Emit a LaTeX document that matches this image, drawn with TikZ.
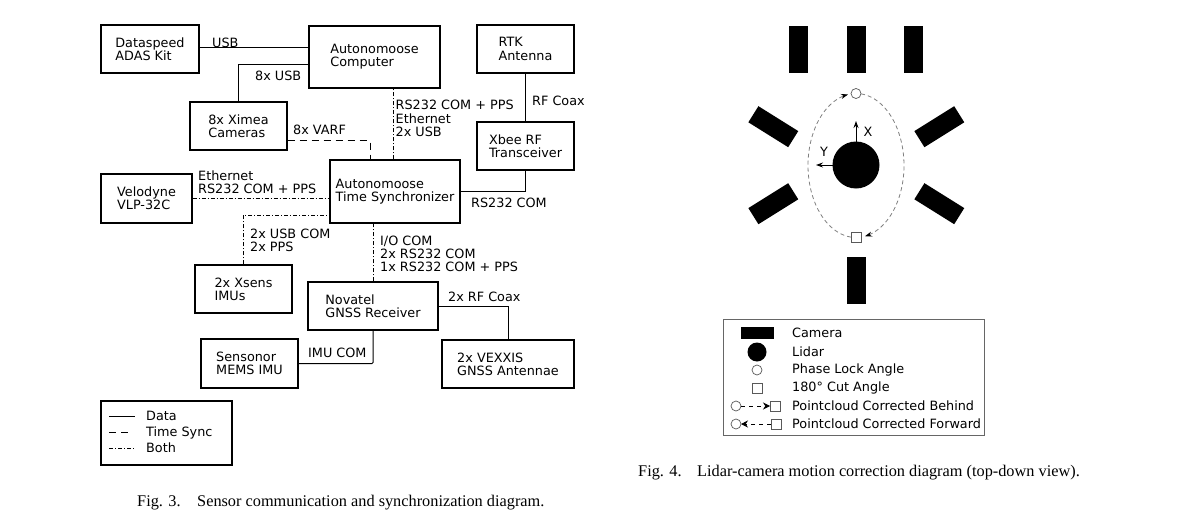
\documentclass[tikz,border=0pt]{standalone}
\usepackage{fontspec}
\setmainfont{DejaVu Sans}
\newfontfamily\capfont{Liberation Serif}
\usetikzlibrary{arrows.meta}
\begin{document}
\begin{tikzpicture}[x=1pt,y=-1pt,
  txt/.style={font=\fontsize{12.8}{13.3}\selectfont},
  box/.style={txt, draw, line width=1.2pt, align=left, inner sep=0pt},
  lab/.style={txt, inner sep=0pt, anchor=west, align=left},
  conn/.style={line width=1pt},
  tsync/.style={conn, dash pattern=on 7pt off 5pt},
  both/.style={conn, dash pattern=on 4pt off 2pt on 1pt off 2pt},
  orbit/.style={gray, line width=0.8pt, dash pattern=on 4pt off 3pt},
  orbtip/.style={-{Stealth[black,length=7pt,width=5pt]}},
  cambox/.style={fill=black, inner sep=0pt, minimum width=47pt, minimum height=19pt},
  symb/.style={draw=gray!70!black, line width=0.7pt, fill=white},
  captxt/.style={font=\capfont\fontsize{16.3}{18}\selectfont, inner sep=0pt, anchor=base west}
]
\useasboundingbox (0,0) rectangle (1186,527);

% ---------------- left diagram: boxes ----------------
\node[box, minimum width=98pt, minimum height=48pt] (ds) at (150,49) {Dataspeed\\ADAS Kit};
\node[box, minimum width=131pt, minimum height=62pt] (comp) at (374.5,57) {Autonomoose\\Computer};
\node[box, minimum width=97pt, minimum height=48pt] (cam) at (238.5,126) {8x Ximea\\Cameras};
\node[box, minimum width=97pt, minimum height=48pt] (rtk) at (525.5,49) {RTK\\Antenna};
\node[box, minimum width=97pt, minimum height=48pt] (xbee) at (525.5,146) {Xbee RF\\Transceiver};
\node[box, minimum width=130pt, minimum height=63pt] (ts) at (395,191.5) {Autonomoose\\Time Synchronizer};
\node[box, minimum width=91pt, minimum height=49pt] (velo) at (146.5,198.5) {Velodyne\\VLP-32C};
\node[box, minimum width=97pt, minimum height=48pt] (xsens) at (243.5,289) {2x Xsens\\IMUs};
\node[box, minimum width=130pt, minimum height=48pt] (nov) at (373,306) {Novatel\\GNSS Receiver};
\node[box, minimum width=132pt, minimum height=48pt] (vex) at (508,364) {2x VEXXIS\\GNSS Antennae};
\node[box, minimum width=97pt, minimum height=49pt] (sens) at (249.5,363.5) {Sensonor\\MEMS IMU};

% ---------------- left diagram: connectors ----------------
\draw[conn] ([yshift=1pt]ds.east) -- ([yshift=1pt]ds.east -| comp.west);
\draw[conn] (cam.north) |- ([yshift=-8pt]comp.west);
\draw[tsync, rounded corners=2pt] ([yshift=-14pt]cam.east) -| ([xshift=-25pt]ts.north);
\draw[both] ([xshift=-2pt]ts.north) -- ([xshift=-2pt]ts.north |- comp.south);
\draw[conn] (rtk.south) -- (xbee.north);
\draw[conn] (ts.east) -| (xbee.south);
\draw[both] (velo.east) -- (velo.east -| ts.west);
\draw[both] (xsens.north) |- ([yshift=-23.5pt]ts.west);
\draw[both] (nov.north) -- (nov.north |- ts.south);
\draw[conn] (nov.east) -| (vex.north);
\draw[conn, rounded corners=1pt] (sens.east) -| (nov.south);

% ---------------- left diagram: labels ----------------
\node[lab] (lusb) at (212,43) {USB};
\node[lab] (l8usb) at (255,76) {8x USB};
\node[lab] (lvarf) at (293,130) {8x VARF};
\node[lab] (lcomp) at (395.5,118.5) {RS232 COM + PPS\\Ethernet\\2x USB};
\node[lab] (lrf) at (532,101) {RF Coax};
\node[lab] (lrs) at (471,203) {RS232 COM};
\node[lab] (lvelo) at (198,182.5) {Ethernet\\RS232 COM + PPS};
\node[lab] (lxs) at (250,240) {2x USB COM\\2x PPS};
\node[lab] (lnov) at (380,254) {I/O COM\\2x RS232 COM\\1x RS232 COM + PPS};
\node[lab] (lrf2) at (448,297) {2x RF Coax};
\node[lab] (limu) at (308,353) {IMU COM};

% ---------------- left legend ----------------
\draw[line width=1.6pt] (101,401) rectangle (232,465);
\coordinate (la1) at (109,416); \coordinate (lb1) at (135,416);
\coordinate (la2) at (109,432); \coordinate (lb2) at (128,432);
\coordinate (la3) at (109,448); \coordinate (lb3) at (135,448);
\draw[conn] (la1) -- (lb1);
\draw[tsync] (la2) -- (lb2);
\draw[both] (la3) -- (lb3);
\node[txt, inner sep=0pt, anchor=base west] (tdata) at (146,420.5) {Data};
\node[txt, inner sep=0pt, anchor=base west] (tsyn) at (146,436.5) {Time Sync};
\node[txt, inner sep=0pt, anchor=base west] (tboth) at (146,452.5) {Both};

% ---------------- right diagram ----------------
\fill (789,26) rectangle (808,73);
\fill (847,26) rectangle (866,73);
\fill (904,26) rectangle (923,73);
\fill (847,257) rectangle (866,304);
\node[cambox, rotate=-32] (cUL) at (773.3,126.7) {};
\node[cambox, rotate=32] (cUR) at (939.3,126.7) {};
\node[cambox, rotate=32] (cLL) at (773.3,203.7) {};
\node[cambox, rotate=-32] (cLR) at (939.3,203.7) {};
\fill (856,165) circle (23.5);

\draw[orbit, orbtip] plot[domain=96:260.4, samples=80] ({856+48*cos(\x)}, {165.5+72*sin(\x)});
\draw[orbit, orbtip] plot[domain=-84:79.2, samples=80] ({856+48*cos(\x)}, {165.5+72*sin(\x)});
\draw[symb] (856,93.5) circle (5);
\draw[symb] (851,232) rectangle (861,242);

\coordinate (xo) at (856,141.5); \coordinate (xe) at (856,121);
\coordinate (yo) at (832.5,165); \coordinate (ye) at (816,165);
\draw[line width=1pt, -{Stealth[length=7pt,width=5pt]}] (xo) -- (xe);
\draw[line width=1pt, -{Stealth[length=7pt,width=5pt]}] (yo) -- (ye);
\node[txt, inner sep=0pt] (xl) at (868,132) {X};
\node[txt, inner sep=0pt] (yl) at (824,152) {Y};

% ---------------- right legend ----------------
\draw[gray!80!black, line width=0.8pt] (723,319) rectangle (984,435);
\fill (741,327) rectangle (774,339);
\fill (757,352) circle (9.5);
\draw[symb] (757,370) circle (5);
\draw[symb] (752,383) rectangle (762,393);
% behind
\draw[symb] (736,406) circle (5);
\draw[symb] (770,401) rectangle (780,411);
\coordinate (b1) at (741,406); \coordinate (b2) at (770,406);
\draw[line width=0.8pt, dash pattern=on 4pt off 4pt, -{Stealth[black,length=7pt,width=7pt]}] (b1) -- (b2);
% forward
\draw[symb] (736,424) circle (5);
\draw[symb] (771,419) rectangle (781,429);
\coordinate (f1) at (771,424); \coordinate (f2) at (741,424);
\draw[line width=0.8pt, dash pattern=on 4pt off 4pt, -{Stealth[black,length=7pt,width=7pt]}] (f1) -- (f2);

\node[lab] (r1) at (792,333) {Camera};
\node[lab] (r2) at (792,351.5) {Lidar};
\node[lab] (r3) at (792,370) {Phase Lock Angle};
\node[lab] (r4) at (792,388) {180° Cut Angle};
\node[lab] (r5) at (792,406) {Pointcloud Corrected Behind};
\node[lab] (r6) at (792,424) {Pointcloud Corrected Forward};

% ---------------- captions ----------------
\node[captxt] (f3a) at (137,506) {Fig. 3.};
\node[captxt] (f3b) at (197,506) {Sensor communication and synchronization diagram.};
\node[captxt] (f4a) at (638,476) {Fig. 4.};
\node[captxt] (f4b) at (697,476) {Lidar-camera motion correction diagram (top-down view).};
\end{tikzpicture}
\end{document}
